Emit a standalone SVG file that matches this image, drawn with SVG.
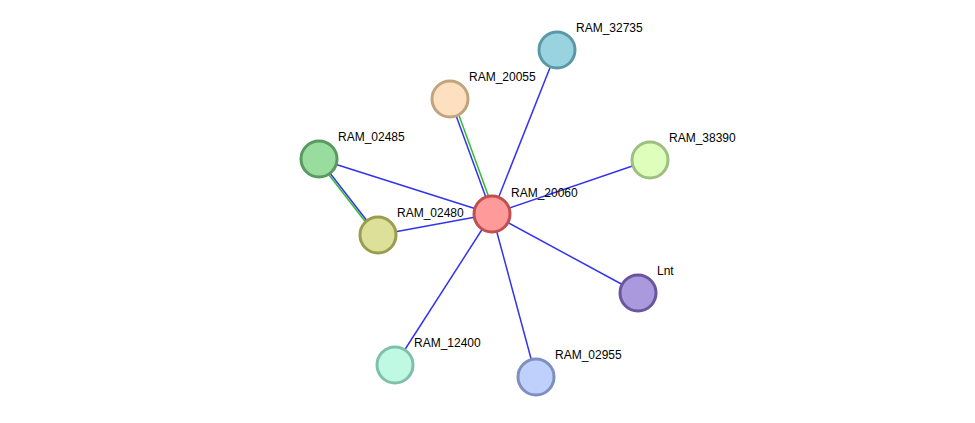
<svg xmlns="http://www.w3.org/2000/svg" width="975" height="423" viewBox="0 0 975 423">
<style>
.e{stroke:#3333ee;stroke-width:1.5;fill:none}
.g{stroke:#33bb33;stroke-width:1.5;fill:none}
circle{stroke-width:3}
text{font-family:"Liberation Sans",Arial,sans-serif;font-size:12px;fill:#000}
</style>
<rect width="975" height="423" fill="#fff"/>
<g id="edges">
<line class="g" x1="453" y1="99" x2="495" y2="214"/>
<line class="e" x1="450" y1="99" x2="492" y2="214"/>
<line class="g" x1="319" y1="162" x2="378" y2="238"/>
<line class="e" x1="319" y1="159" x2="378" y2="235"/>
<line class="e" x1="557" y1="50" x2="492" y2="214"/>
<line class="e" x1="650" y1="160" x2="492" y2="214"/>
<line class="e" x1="319" y1="159" x2="492" y2="214"/>
<line class="e" x1="378" y1="235" x2="492" y2="214"/>
<line class="e" x1="638" y1="293" x2="492" y2="214"/>
<line class="e" x1="395" y1="365" x2="492" y2="214"/>
<line class="e" x1="536" y1="377" x2="492" y2="214"/>
</g>
<g id="RAM_32735"><circle cx="557" cy="50" r="18" fill="#99d3e0" stroke="#5a98a8"/><text x="576" y="32">RAM_32735</text></g>
<g id="RAM_20055"><circle cx="450" cy="99" r="18" fill="#fde0c0" stroke="#c0a47e"/><text x="469" y="81">RAM_20055</text></g>
<g id="RAM_38390"><circle cx="650" cy="160" r="18" fill="#ddffbb" stroke="#9cc080"/><text x="669" y="142">RAM_38390</text></g>
<g id="RAM_02485"><circle cx="319" cy="159" r="18" fill="#99dd9e" stroke="#5a9a60"/><text x="338" y="141">RAM_02485</text></g>
<g id="RAM_02480"><circle cx="378" cy="235" r="18" fill="#dde099" stroke="#9a9c50"/><text x="397" y="217">RAM_02480</text></g>
<g id="Lnt"><circle cx="638" cy="293" r="18" fill="#aa99dd" stroke="#6a559e"/><text x="657" y="275">Lnt</text></g>
<g id="RAM_12400"><circle cx="395" cy="365" r="18" fill="#bff9e4" stroke="#80c0aa"/><text x="414" y="347">RAM_12400</text></g>
<g id="RAM_02955"><circle cx="536" cy="377" r="18" fill="#bfd0fd" stroke="#7f8fc0"/><text x="555" y="359">RAM_02955</text></g>
<g id="RAM_20060"><circle cx="492" cy="214" r="18" fill="#ff9a9a" stroke="#c05050"/><text x="511" y="197">RAM_20060</text></g>
</svg>
